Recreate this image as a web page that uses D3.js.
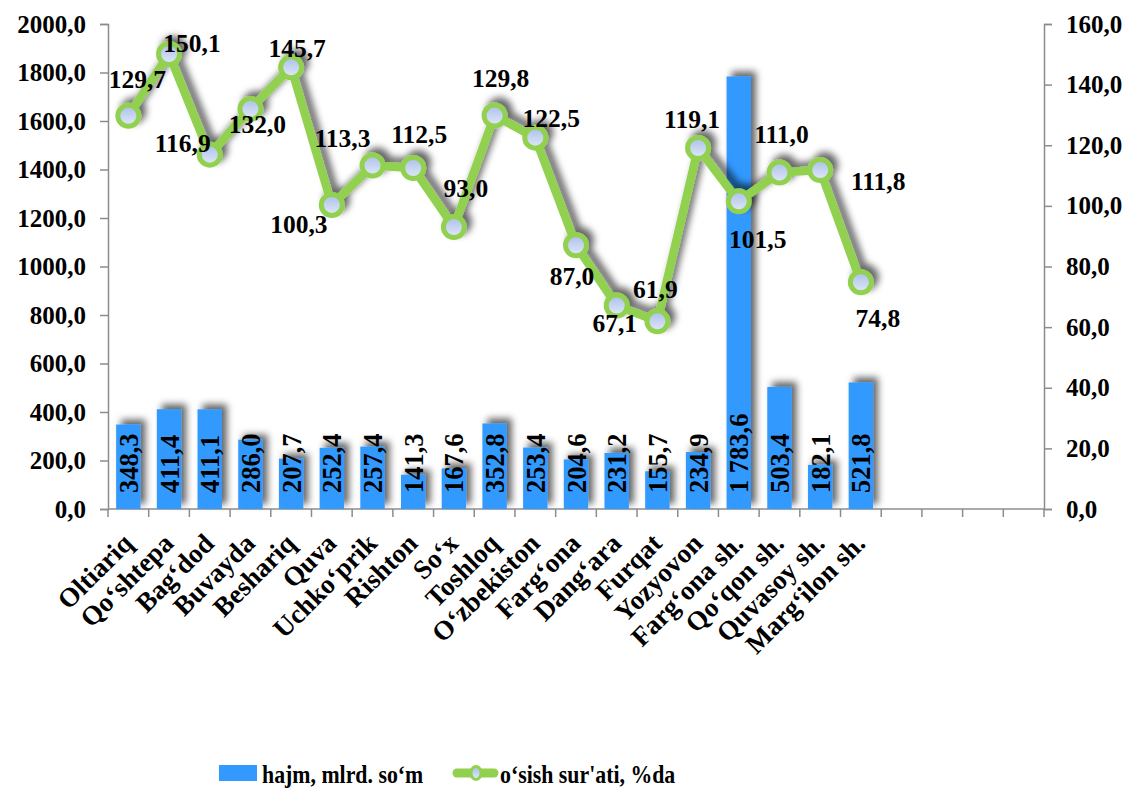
<!DOCTYPE html>
<html>
<head>
<meta charset="utf-8">
<script src="https://d3js.org/d3.v7.min.js"></script>
<style>
  html, body { margin: 0; padding: 0; background: #fff; }
  svg text { font-family: "Liberation Serif", "Times New Roman", serif; font-weight: bold; fill: #000; }
</style>
</head>
<body>
<div class="canvas"></div>
<script>
// data
const categories = ["Oltiariq", "Qo‘shtepa", "Bag‘dod", "Buvayda", "Beshariq", "Quva", "Uchko‘prik",
  "Rishton", "So‘x", "Toshloq", "O‘zbekiston", "Farg‘ona", "Dang‘ara", "Furqat", "Yozyovon",
  "Farg‘ona sh.", "Qo‘qon sh.", "Quvasoy sh.", "Marg‘ilon sh."];
const volume = [348.3, 411.4, 411.1, 286.0, 207.7, 252.4, 257.4, 141.3, 167.6, 352.8,
  253.4, 204.6, 231.2, 155.7, 234.9, 1783.6, 503.4, 182.1, 521.8];
const growth = [129.7, 150.1, 116.9, 132.0, 145.7, 100.3, 113.3, 112.5, 93.0, 129.8,
  122.5, 87.0, 67.1, 61.9, 119.1, 101.5, 111.0, 111.8, 74.8];
const leftTicks = [0, 200, 400, 600, 800, 1000, 1200, 1400, 1600, 1800, 2000];
const rightTicks = [0, 20, 40, 60, 80, 100, 120, 140, 160];
const seriesNames = ["hajm, mlrd. so‘m", "o‘sish sur'ati, %da"];
const emptySlots = 4;

// label nudges for the growth line (dx, dy from the point)
const growthLabelNudge = [[9, -28], [23, -2], [-27, -3], [7, 24], [6, -10], [-33, 28], [-30, -19],
  [6, -25], [12, -30], [6, -29], [16, -11], [-4, 40], [-2, 26], [-2, -23], [-6, -20], [19, 47],
  [2, -30], [58, 20], [17, 45]];

const dims = { width: 1141, height: 790 };
const plot = { left: 108, right: 1044, top: 24, bottom: 509 };
const blue = "#3399ff";
const green = "#92d050";
const axisGrey = "#8c8c8c";

const loc = d3.formatLocale({ decimal: ",", thousands: "\u00a0", grouping: [3] });
const fmtAxis = loc.format(".1f");
const fmtVal = loc.format(",.1f");

const svg = d3.select(".canvas").append("svg")
  .attr("width", dims.width)
  .attr("height", dims.height);

const defs = svg.append("defs");
defs.append("filter").attr("id", "shadow")
  .attr("x", "-30%").attr("y", "-30%").attr("width", "160%").attr("height", "160%")
  .append("feDropShadow")
  .attr("dx", 5).attr("dy", -5).attr("stdDeviation", 3.5)
  .attr("flood-color", "#000").attr("flood-opacity", 0.6);
const grad = defs.append("linearGradient").attr("id", "markerFill")
  .attr("x1", 0).attr("y1", 0).attr("x2", 0).attr("y2", 1);
grad.append("stop").attr("offset", "0%").attr("stop-color", "#a9bfe9");
grad.append("stop").attr("offset", "100%").attr("stop-color", "#e2eaf8");

// scales
const slots = d3.range(categories.length + emptySlots);
const x = d3.scaleBand().domain(slots).range([plot.left, plot.right])
  .paddingInner(0.4).paddingOuter(0.2);
const yL = d3.scaleLinear().domain([0, 2000]).range([plot.bottom, plot.top]);
const yR = d3.scaleLinear().domain([0, 160]).range([plot.bottom, plot.top]);
const cx = (i) => x(i) + x.bandwidth() / 2;

// axes
const leftAxis = svg.append("g")
  .attr("transform", `translate(${plot.left},0)`)
  .call(d3.axisLeft(yL).tickValues(leftTicks).tickFormat(fmtAxis).tickSize(8).tickPadding(14));
const rightAxis = svg.append("g")
  .attr("transform", `translate(${plot.right},0)`)
  .call(d3.axisRight(yR).tickValues(rightTicks).tickFormat(fmtAxis).tickSize(8).tickPadding(14));
[leftAxis, rightAxis].forEach((g) => {
  g.attr("font-family", null).attr("font-size", null);
  g.selectAll("path, line").attr("stroke", axisGrey).attr("stroke-width", 1.5);
  g.selectAll("text").style("font-size", "25px");
});

// x axis line + slot ticks
const xAxis = svg.append("g");
xAxis.append("line")
  .attr("x1", plot.left).attr("x2", plot.right)
  .attr("y1", plot.bottom).attr("y2", plot.bottom)
  .attr("stroke", axisGrey).attr("stroke-width", 1.5);
xAxis.selectAll("line.tick").data(d3.range(slots.length + 1)).enter().append("line")
  .attr("class", "tick")
  .attr("x1", (k) => plot.left + k * x.step())
  .attr("x2", (k) => plot.left + k * x.step())
  .attr("y1", plot.bottom).attr("y2", plot.bottom + 8)
  .attr("stroke", axisGrey).attr("stroke-width", 1.5);

xAxis.selectAll("text").data(categories).enter().append("text")
  .attr("transform", (d, i) => `translate(${cx(i) + 6},545) rotate(-45)`)
  .attr("text-anchor", "end")
  .style("font-size", "27px")
  .text((d) => d);

// bars
svg.append("g").attr("filter", "url(#shadow)")
  .selectAll("rect").data(volume).enter().append("rect")
  .attr("x", (d, i) => x(i))
  .attr("width", x.bandwidth())
  .attr("y", (d) => yL(d))
  .attr("height", (d) => plot.bottom - yL(d))
  .attr("fill", blue);

svg.append("g").selectAll("text").data(volume).enter().append("text")
  .attr("transform", (d, i) => `translate(${cx(i)},${plot.bottom - 16}) rotate(-90)`)
  .attr("dy", "0.36em")
  .style("font-size", "26.5px")
  .text((d) => fmtVal(d));

// growth line
const line = d3.line().x((d, i) => cx(i)).y((d) => yR(d));
const lineG = svg.append("g").attr("filter", "url(#shadow)");
lineG.append("path")
  .datum(growth)
  .attr("d", line)
  .attr("fill", "none")
  .attr("stroke", green)
  .attr("stroke-width", 8.5)
  .attr("stroke-linejoin", "round");
lineG.selectAll("circle").data(growth).enter().append("circle")
  .attr("cx", (d, i) => cx(i))
  .attr("cy", (d) => yR(d))
  .attr("r", 10.5)
  .attr("fill", "url(#markerFill)")
  .attr("stroke", green)
  .attr("stroke-width", 5);

svg.append("g").selectAll("text").data(growth).enter().append("text")
  .attr("x", (d, i) => cx(i) + growthLabelNudge[i][0])
  .attr("y", (d, i) => yR(d) + growthLabelNudge[i][1])
  .attr("text-anchor", "middle")
  .style("font-size", "25.5px")
  .text((d) => fmtVal(d));

// legend
const legend = svg.append("g");
legend.append("rect")
  .attr("x", 219).attr("y", 765).attr("width", 38).attr("height", 16)
  .attr("fill", blue);
legend.append("text")
  .attr("transform", "translate(262,783) scale(0.84,1)")
  .style("font-size", "26px").text(seriesNames[0]);
legend.append("line")
  .attr("x1", 457).attr("x2", 494).attr("y1", 773).attr("y2", 773)
  .attr("stroke", green).attr("stroke-width", 9).attr("stroke-linecap", "round");
legend.append("ellipse")
  .attr("cx", 476).attr("cy", 773).attr("rx", 5).attr("ry", 6.5)
  .attr("fill", "url(#markerFill)")
  .attr("stroke", green).attr("stroke-width", 3);
legend.append("text")
  .attr("transform", "translate(500,783) scale(0.84,1)")
  .style("font-size", "26px").text(seriesNames[1]);
</script>
</body>
</html>
